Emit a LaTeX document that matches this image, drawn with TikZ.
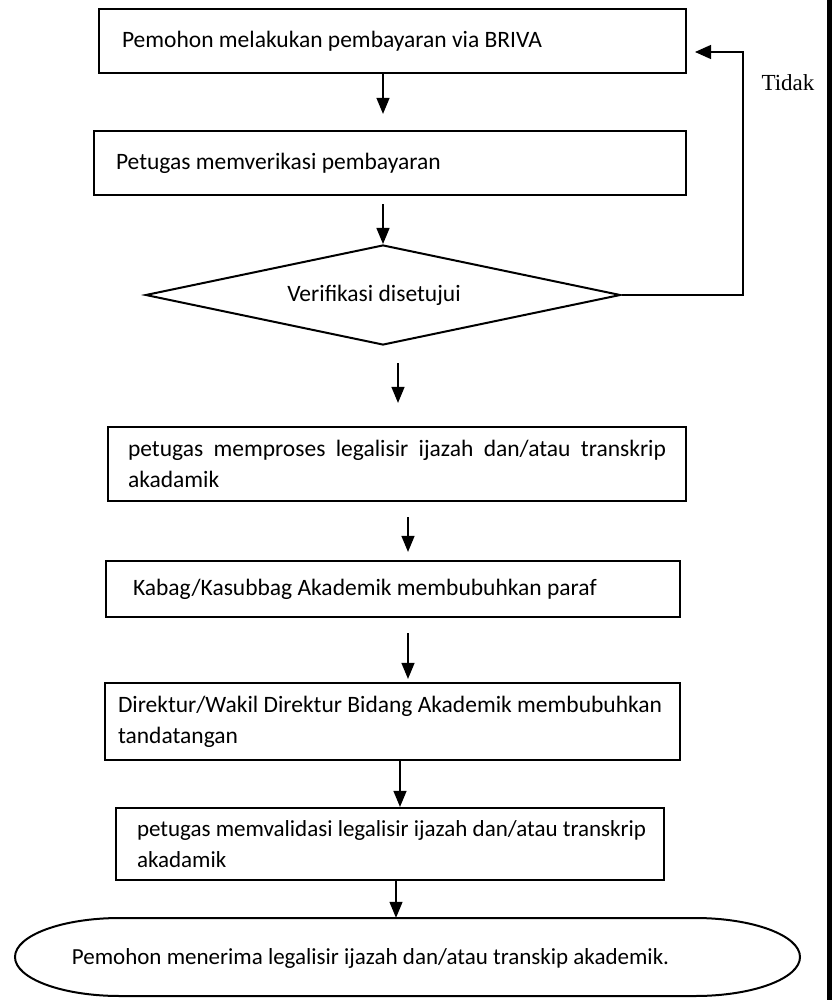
\documentclass[tikz,border=0pt]{standalone}
\usepackage{fontspec}
\setmainfont{Carlito}
\newfontfamily\notefont{Liberation Serif}
\usetikzlibrary{arrows.meta,shapes.geometric}
\hyphenpenalty=10000
\exhyphenpenalty=10000
\newcommand\bodysize{\fontsize{23.5}{31}\selectfont}
\newcommand\smallbodysize{\fontsize{23}{31}\selectfont}
\tikzset{
  body/.style={font=\bodysize},
  stepbox/.style={draw, line width=2.2pt, rectangle, inner ysep=0pt, align=flush left, body},
  decision/.style={draw, line width=2pt, diamond, aspect=4.75, inner sep=0pt, body},
  terminal/.style={line width=2pt},
  flow/.style={line width=1.3pt, -{Triangle[length=16pt,width=13pt]}},
  loopline/.style={line width=1.3pt, -{Triangle[length=16pt,width=14pt]}},
}
\begin{document}
\begin{tikzpicture}[x=1pt,y=-1pt]
\useasboundingbox (0,0) rectangle (832,1000);
% page edge rule on the right
\fill (827,0) rectangle (832,1000);

% process steps
\node[stepbox, minimum width=587pt, minimum height=64pt, text width=541pt, inner xsep=23pt] (b1) at (392.5,41)
  {Pemohon melakukan pembayaran via BRIVA};
\node[stepbox, minimum width=592pt, minimum height=64pt, text width=548pt, inner xsep=22pt] (b2) at (390,163)
  {Petugas memverikasi pembayaran};
\node[decision, minimum width=475pt, minimum height=100pt] (d) at (383,295)
  {Verifikasi disetujui\hspace*{18pt}};
\node[stepbox, align=justify, minimum width=578pt, minimum height=74pt, text width=538pt, inner xsep=20pt] (b3) at (397,464)
  {petugas memproses legalisir ijazah dan/atau transkrip akadamik};
\node[stepbox, minimum width=574pt, minimum height=56pt, text width=520pt, inner xsep=27pt] (b4) at (393,589)
  {Kabag/Kasubbag Akademik membubuhkan paraf};
\node[stepbox, minimum width=575pt, minimum height=77pt, text width=549pt, inner xsep=13pt] (b5) at (392.5,721.5)
  {\mbox{Direktur/Wakil Direktur Bidang Akademik membubuhkan}\\tandatangan};
\node[stepbox, font=\smallbodysize, minimum width=548pt, minimum height=72pt, text width=506pt, inner xsep=21pt] (b6) at (390,844)
  {\mbox{petugas memvalidasi legalisir ijazah dan/atau transkrip}\\akadamik};

% closing terminal: long flattened oval
\node[minimum width=785pt, minimum height=78pt, inner sep=0pt] (e) at (407.5,957) {};
\draw[terminal] (120,918) -- (695,918)
  .. controls (753,918) and (800,935.5) .. (800,957)
  .. controls (800,978.5) and (753,996) .. (695,996)
  -- (120,996)
  .. controls (62,996) and (15,978.5) .. (15,957)
  .. controls (15,935.5) and (62,918) .. (120,918) -- cycle;
\node[font=\smallbodysize, inner sep=0pt] (et) at (370.5,958)
  {Pemohon menerima legalisir ijazah dan/atau transkip akademik.};

% forward flow
\draw[flow, shorten >=16pt] ([xshift=-9.5pt]b1.south) -- ([xshift=-7pt]b2.north);
\draw[flow, shorten <=8pt] ([xshift=-7pt]b2.south) -- (d.north);
\draw[flow, shorten <=17pt, shorten >=23pt] ([xshift=15pt]d.south) -- ([xshift=1pt]b3.north);
\draw[flow, shorten <=15pt, shorten >=8pt] ([xshift=11pt]b3.south) -- ([xshift=15pt]b4.north);
\draw[flow, shorten <=15pt, shorten >=3pt] ([xshift=15pt]b4.south) -- ([xshift=15.5pt]b5.north);
\draw[flow] ([xshift=7.5pt]b5.south) -- ([xshift=10pt]b6.north);
\draw[flow] ([xshift=6pt]b6.south) -- ([xshift=-11.5pt]e.north);

% rejection loop back to the first step
\coordinate (turn) at (743,52);
\coordinate (backtip) at (695,52);
\draw[loopline] (d.east) -| (turn) -- (backtip);
\node[font=\notefont\fontsize{23}{28}\selectfont, inner sep=0pt] (no) at (788,83) {Tidak};
\end{tikzpicture}
\end{document}
